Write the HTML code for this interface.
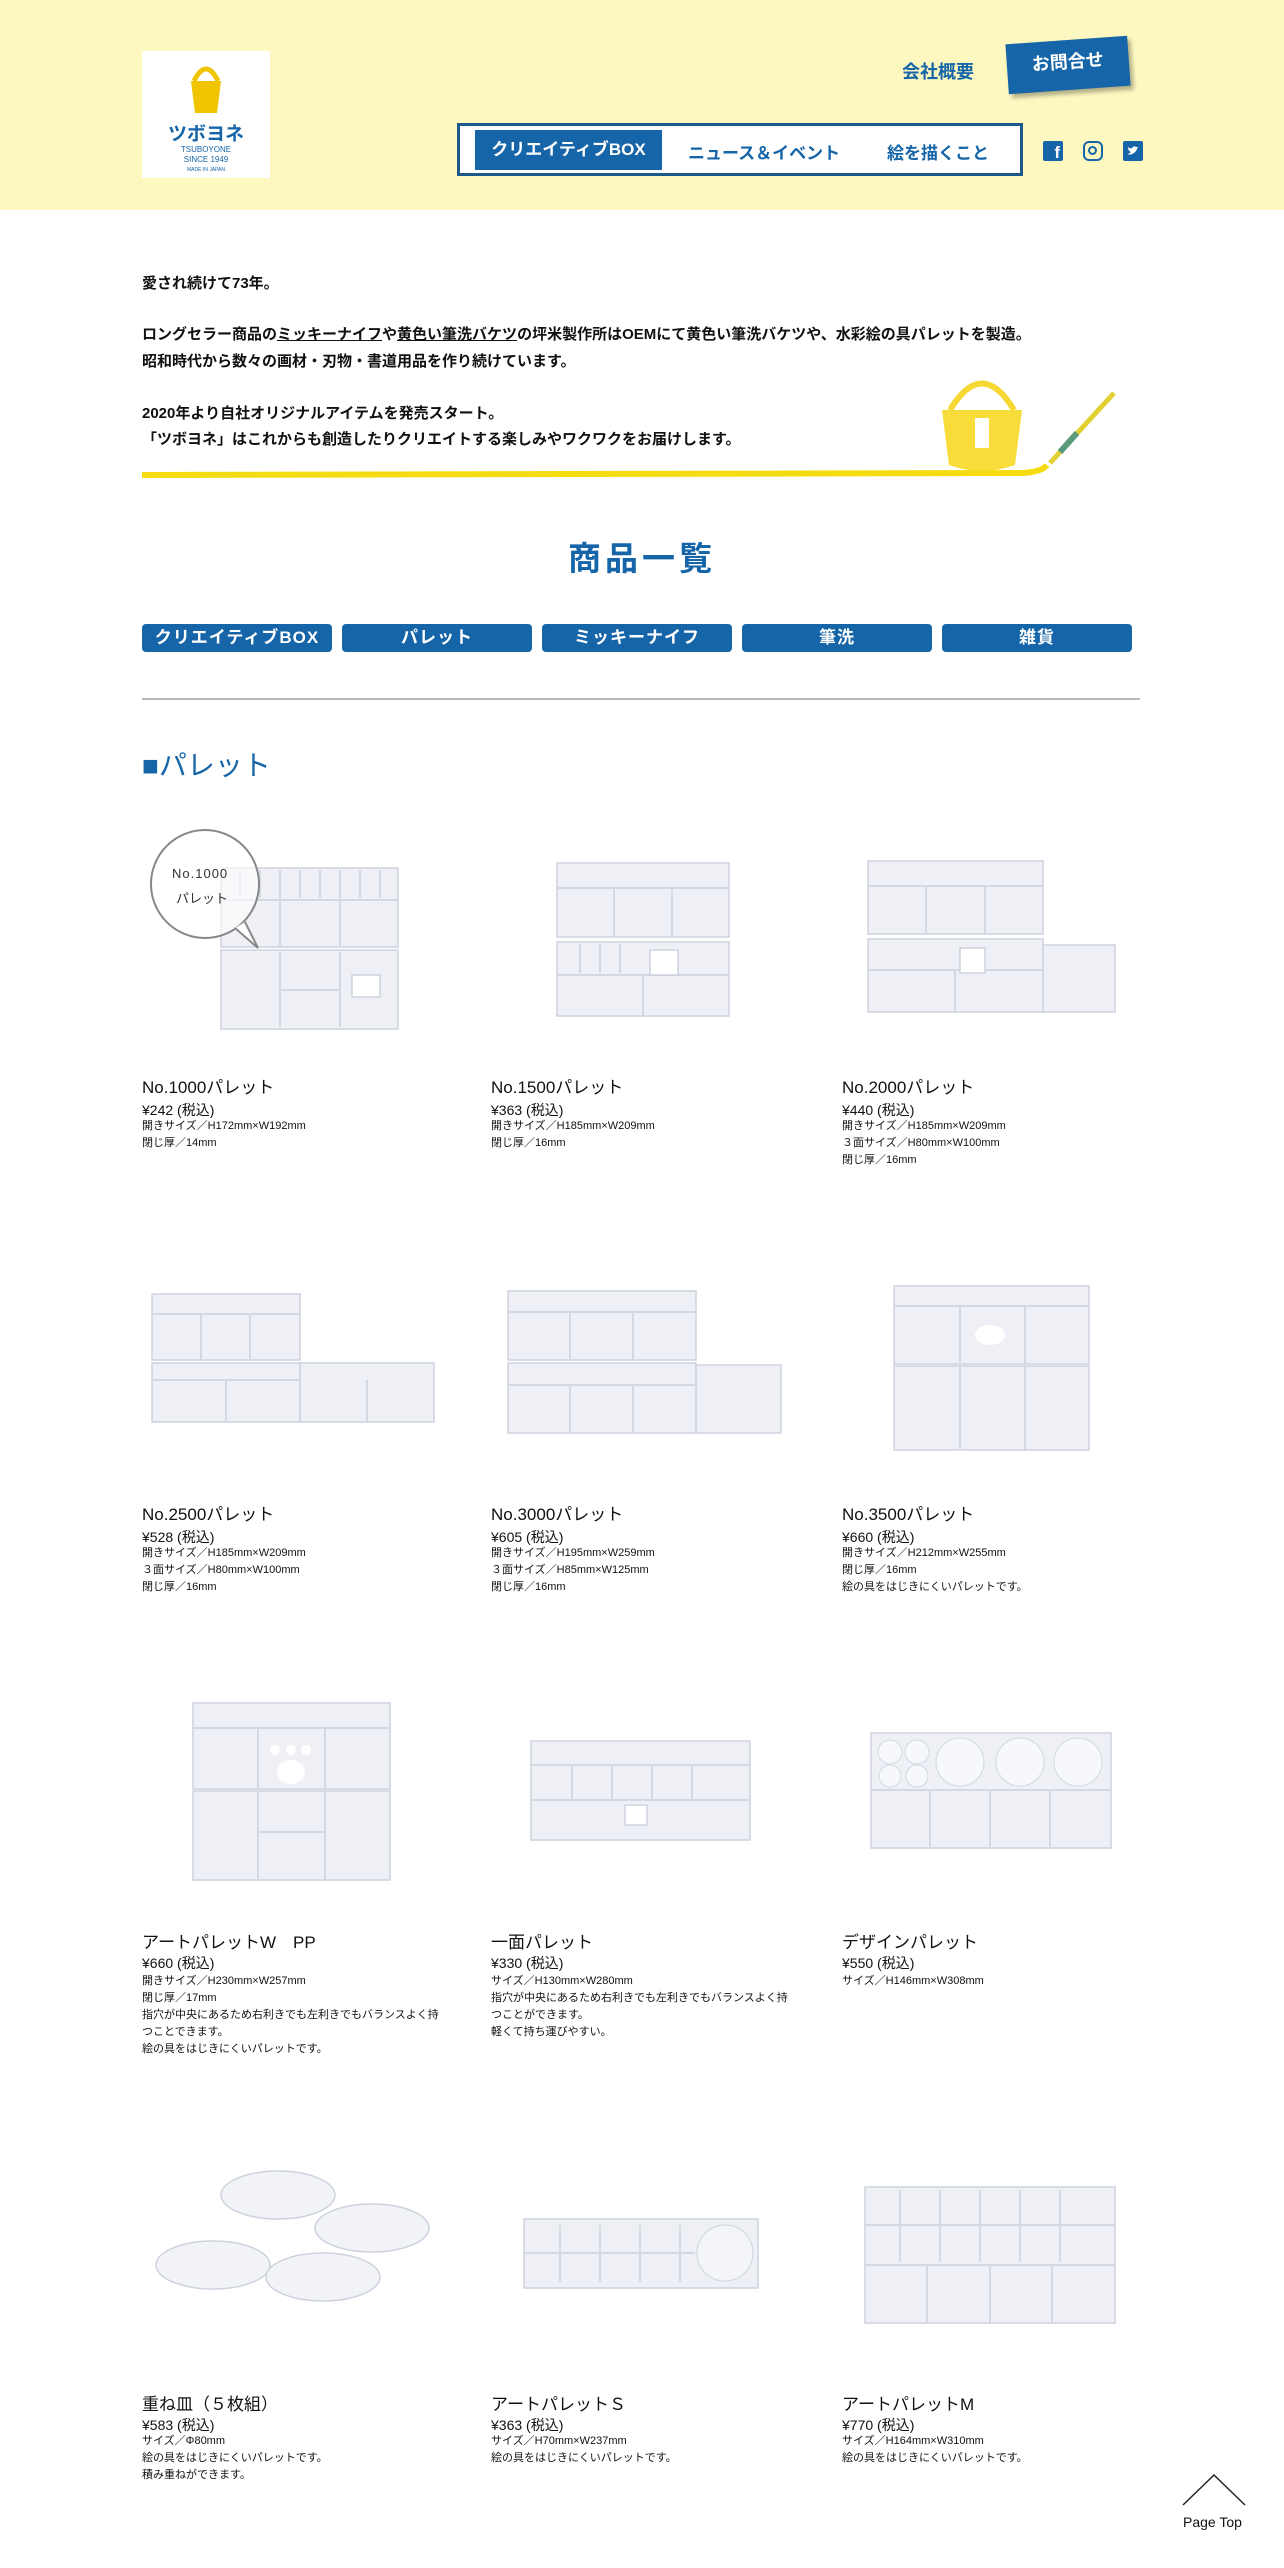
<!DOCTYPE html>
<html><head><meta charset="utf-8"><style>
*{margin:0;padding:0;box-sizing:border-box}
body{width:1284px;height:2568px;position:relative;background:#fff;font-family:"Liberation Sans","Noto Sans CJK JP",sans-serif;color:#111;overflow:hidden}
.a{position:absolute;white-space:nowrap}
.hdr{position:absolute;left:0;top:0;width:1284px;height:210px;background:#fdf8c0}
.blue{color:#1565a8}
.btn{position:absolute;top:624px;width:190px;height:28px;background:#1565a8;color:#fff;border-radius:4px;font-weight:bold;font-size:17px;text-align:center;line-height:28px;letter-spacing:1px}
.t{font-size:17px}
.p{font-size:14px}
.s{font-size:11px;line-height:17px}
svg.pal rect{fill:#eef0f6;stroke:#cdd2de;stroke-width:1.5}
svg.pal line{stroke:#d3d8e3;stroke-width:2}
</style></head><body>
<div class="hdr"></div>
<div class="a" style="left:142px;top:51px;width:128px;height:127px;background:#fff">
 <svg width="128" height="127" style="position:absolute;left:0;top:0">
  <path d="M52 30 Q64 6 76 30" stroke="#f1c400" stroke-width="5" fill="none"/>
  <path d="M49 30 L79 30 L75 62 L53 62 Z" fill="#f1c400"/>
 </svg>
 <div class="a blue" style="left:0;width:128px;text-align:center;top:68px;font-size:19px;font-weight:bold">ツボヨネ</div>
 <div class="a blue" style="left:0;width:128px;text-align:center;top:94px;font-size:8px;line-height:10px">TSUBOYONE<br>SINCE 1949</div>
 <div class="a blue" style="left:0;width:128px;text-align:center;top:116px;font-size:5px">MADE IN JAPAN</div>
</div>
<div class="a blue" style="left:902px;top:58px;font-size:18px;font-weight:bold">会社概要</div>
<div class="a" style="left:1007px;top:40px;width:122px;height:50px;background:#1565a8;transform:rotate(-4deg);box-shadow:3px 4px 4px rgba(0,0,0,.3);color:#fff;font-weight:bold;font-size:18px;text-align:center;line-height:44px">お問合せ</div>
<div class="a" style="left:457px;top:123px;width:566px;height:53px;border:3px solid #1b5a8a;background:#fff"></div>
<div class="a" style="left:475px;top:130px;width:187px;height:40px;background:#1565a8;color:#fff;font-weight:bold;font-size:17px;text-align:center;line-height:40px">クリエイティブBOX</div>
<div class="a blue" style="left:688px;top:139px;font-size:17px;font-weight:bold">ニュース＆イベント</div>
<div class="a blue" style="left:887px;top:139px;font-size:17px;font-weight:bold">絵を描くこと</div>
<div class="a" style="left:1043px;top:141px;width:20px;height:20px;background:#1565a8;border-radius:2px;color:#fff;font-weight:bold;font-size:17px;text-align:right;padding-right:3px;line-height:24px">f</div>
<div class="a" style="left:1083px;top:141px;width:20px;height:20px;border:2.5px solid #1565a8;border-radius:6px"><div style="position:absolute;left:3px;top:3px;width:9px;height:9px;border:2.5px solid #1565a8;border-radius:50%"></div></div>
<svg class="a" style="left:1123px;top:141px" width="20" height="20"><rect width="20" height="20" rx="2" fill="#1565a8"/><path d="M4 13 Q9 15 13 10 L15 6 L13 6 Q11 4 9 7 Q7 8 5 6 Q5 10 8 11 Q6 13 4 13Z" fill="#fff"/></svg>

<div class="a" style="left:142px;top:272px;font-size:15px;font-weight:bold">愛され続けて73年。</div>
<div class="a" style="left:142px;top:323px;font-size:15px;font-weight:bold">ロングセラー商品の<u>ミッキーナイフ</u>や<u>黄色い筆洗バケツ</u>の坪米製作所はOEMにて黄色い筆洗バケツや、水彩絵の具パレットを製造。</div>
<div class="a" style="left:142px;top:350px;font-size:15px;font-weight:bold">昭和時代から数々の画材・刃物・書道用品を作り続けています。</div>
<div class="a" style="left:142px;top:402px;font-size:15px;font-weight:bold">2020年より自社オリジナルアイテムを発売スタート。</div>
<div class="a" style="left:142px;top:428px;font-size:15px;font-weight:bold">「ツボヨネ」はこれからも創造したりクリエイトする楽しみやワクワクをお届けします。</div>
<svg class="a" style="left:142px;top:355px" width="980" height="130">
 <path d="M0 120 L880 118 Q900 117 905 110" stroke="#f5dc10" stroke-width="6" fill="none"/>
 <path d="M808 55 Q840 2 872 55" stroke="#f5d832" stroke-width="6" fill="none"/>
 <path d="M800 55 L880 55 L873 110 Q840 122 807 110 Z" fill="#f7dc3a"/>
 <rect x="833" y="63" width="14" height="30" fill="#fff"/>
 <line x1="972" y1="38" x2="908" y2="108" stroke="#e0d030" stroke-width="5"/>
 <line x1="935" y1="78" x2="918" y2="97" stroke="#5a9a7a" stroke-width="6"/>
</svg>

<div class="a blue" style="left:0;width:1284px;text-align:center;top:532px;font-size:33px;font-weight:bold;letter-spacing:4px">商品一覧</div>
<div class="btn" style="left:142px">クリエイティブBOX</div>
<div class="btn" style="left:342px">パレット</div>
<div class="btn" style="left:542px">ミッキーナイフ</div>
<div class="btn" style="left:742px">筆洗</div>
<div class="btn" style="left:942px">雑貨</div>
<div class="a" style="left:142px;top:698px;width:998px;height:2px;background:#999;opacity:.7"></div>
<div class="a blue" style="left:142px;top:744px;font-size:28px">■パレット</div>

<svg class="pal a" style="left:0;top:0" width="1284" height="2568">
 <!-- row1 col1 -->
 <rect x="221" y="868" width="177" height="79"/><rect x="221" y="950" width="177" height="79"/>
 <g>
  <line x1="221" y1="900" x2="398" y2="900"/>
  <line x1="240" y1="870" x2="240" y2="898"/><line x1="260" y1="870" x2="260" y2="898"/><line x1="280" y1="870" x2="280" y2="898"/><line x1="300" y1="870" x2="300" y2="898"/><line x1="320" y1="870" x2="320" y2="898"/><line x1="340" y1="870" x2="340" y2="898"/><line x1="360" y1="870" x2="360" y2="898"/><line x1="380" y1="870" x2="380" y2="898"/>
  <line x1="280" y1="900" x2="280" y2="947"/><line x1="340" y1="900" x2="340" y2="947"/>
  <line x1="280" y1="952" x2="280" y2="1027"/><line x1="340" y1="952" x2="340" y2="1027"/><line x1="280" y1="990" x2="340" y2="990"/>
 </g>
 <rect x="352" y="975" width="28" height="22" style="fill:#fff"/>
 <!-- col2 -->
 <rect x="557" y="863" width="172" height="74"/><rect x="557" y="942" width="172" height="74"/>
 <line x1="557" y1="888" x2="729" y2="888"/><line x1="614" y1="888" x2="614" y2="937"/><line x1="672" y1="888" x2="672" y2="937"/>
 <line x1="557" y1="975" x2="729" y2="975"/><line x1="643" y1="975" x2="643" y2="1016"/>
 <line x1="580" y1="944" x2="580" y2="973"/><line x1="600" y1="944" x2="600" y2="973"/><line x1="620" y1="944" x2="620" y2="973"/>
 <rect x="650" y="950" width="28" height="25" style="fill:#fff"/>
 <!-- col3 -->
 <rect x="868" y="861" width="175" height="73"/><rect x="868" y="939" width="175" height="73"/><rect x="1043" y="945" width="72" height="67"/>
 <line x1="868" y1="886" x2="1043" y2="886"/><line x1="926" y1="886" x2="926" y2="934"/><line x1="985" y1="886" x2="985" y2="934"/>
 <line x1="868" y1="970" x2="1043" y2="970"/><line x1="955" y1="970" x2="955" y2="1012"/>
 <rect x="960" y="948" width="25" height="25" style="fill:#fff"/>
 <!-- row2 -->
 <rect x="152" y="1294" width="148" height="66"/><rect x="152" y="1363" width="148" height="59"/><rect x="300" y="1363" width="134" height="59"/>
 <line x1="152" y1="1314" x2="300" y2="1314"/><line x1="201" y1="1314" x2="201" y2="1360"/><line x1="250" y1="1314" x2="250" y2="1360"/>
 <line x1="152" y1="1380" x2="300" y2="1380"/><line x1="226" y1="1380" x2="226" y2="1422"/><line x1="367" y1="1380" x2="367" y2="1422"/>
 <rect x="508" y="1291" width="188" height="69"/><rect x="508" y="1363" width="188" height="70"/><rect x="696" y="1365" width="85" height="68"/>
 <line x1="508" y1="1312" x2="696" y2="1312"/><line x1="570" y1="1312" x2="570" y2="1360"/><line x1="633" y1="1312" x2="633" y2="1360"/>
 <line x1="508" y1="1385" x2="696" y2="1385"/><line x1="570" y1="1385" x2="570" y2="1433"/><line x1="633" y1="1385" x2="633" y2="1433"/>
 <rect x="894" y="1286" width="195" height="78"/><rect x="894" y="1366" width="195" height="84"/>
 <line x1="894" y1="1306" x2="1089" y2="1306"/><line x1="960" y1="1306" x2="960" y2="1364"/><line x1="1025" y1="1306" x2="1025" y2="1364"/>
 <line x1="960" y1="1366" x2="960" y2="1450"/><line x1="1025" y1="1366" x2="1025" y2="1450"/>
 <ellipse cx="990" cy="1335" rx="15" ry="10" style="fill:#fff"/>
 <!-- row3 -->
 <rect x="193" y="1703" width="197" height="86"/><rect x="193" y="1791" width="197" height="89"/>
 <line x1="193" y1="1728" x2="390" y2="1728"/><line x1="258" y1="1728" x2="258" y2="1789"/><line x1="325" y1="1728" x2="325" y2="1789"/>
 <line x1="258" y1="1791" x2="258" y2="1880"/><line x1="325" y1="1791" x2="325" y2="1880"/><line x1="258" y1="1832" x2="325" y2="1832"/>
 <ellipse cx="291" cy="1772" rx="14" ry="12" style="fill:#fff"/><circle cx="275" cy="1750" r="5" style="fill:#fff"/><circle cx="291" cy="1750" r="5" style="fill:#fff"/><circle cx="306" cy="1750" r="5" style="fill:#fff"/>
 <rect x="531" y="1741" width="219" height="99"/>
 <line x1="531" y1="1765" x2="750" y2="1765"/><line x1="531" y1="1800" x2="750" y2="1800"/>
 <line x1="572" y1="1765" x2="572" y2="1800"/><line x1="612" y1="1765" x2="612" y2="1800"/><line x1="652" y1="1765" x2="652" y2="1800"/><line x1="692" y1="1765" x2="692" y2="1800"/>
 <rect x="625" y="1805" width="22" height="20" style="fill:#fff"/>
 <rect x="871" y="1733" width="240" height="115"/>
 <line x1="871" y1="1790" x2="1111" y2="1790"/><line x1="930" y1="1790" x2="930" y2="1848"/><line x1="990" y1="1790" x2="990" y2="1848"/><line x1="1050" y1="1790" x2="1050" y2="1848"/>
 <circle cx="890" cy="1752" r="12" style="fill:#f7f8fb;stroke:#d3d8e3"/><circle cx="917" cy="1752" r="12" style="fill:#f7f8fb;stroke:#d3d8e3"/><circle cx="890" cy="1776" r="11" style="fill:#f7f8fb;stroke:#d3d8e3"/><circle cx="917" cy="1776" r="11" style="fill:#f7f8fb;stroke:#d3d8e3"/>
 <circle cx="960" cy="1762" r="24" style="fill:#f7f8fb;stroke:#d3d8e3"/><circle cx="1020" cy="1762" r="24" style="fill:#f7f8fb;stroke:#d3d8e3"/><circle cx="1078" cy="1762" r="24" style="fill:#f7f8fb;stroke:#d3d8e3"/>
 <!-- row4 -->
 <ellipse cx="278" cy="2195" rx="57" ry="24" style="fill:#f2f3f7;stroke:#cdd2de;stroke-width:1.5"/>
 <ellipse cx="372" cy="2228" rx="57" ry="24" style="fill:#f2f3f7;stroke:#cdd2de;stroke-width:1.5"/>
 <ellipse cx="213" cy="2265" rx="57" ry="24" style="fill:#f2f3f7;stroke:#cdd2de;stroke-width:1.5"/>
 <ellipse cx="323" cy="2277" rx="57" ry="24" style="fill:#f2f3f7;stroke:#cdd2de;stroke-width:1.5"/>
 <rect x="524" y="2219" width="234" height="69"/>
 <line x1="560" y1="2225" x2="560" y2="2282"/><line x1="600" y1="2225" x2="600" y2="2282"/><line x1="640" y1="2225" x2="640" y2="2282"/><line x1="680" y1="2225" x2="680" y2="2282"/><line x1="524" y1="2253" x2="695" y2="2253"/>
 <circle cx="725" cy="2253" r="28" style="fill:#f4f5f9;stroke:#cdd2de"/>
 <rect x="865" y="2187" width="250" height="136"/>
 <line x1="865" y1="2265" x2="1115" y2="2265"/><line x1="927" y1="2265" x2="927" y2="2323"/><line x1="990" y1="2265" x2="990" y2="2323"/><line x1="1052" y1="2265" x2="1052" y2="2323"/>
 <line x1="865" y1="2225" x2="1115" y2="2225"/>
 <line x1="900" y1="2190" x2="900" y2="2262"/><line x1="940" y1="2190" x2="940" y2="2262"/><line x1="980" y1="2190" x2="980" y2="2262"/><line x1="1020" y1="2190" x2="1020" y2="2262"/><line x1="1060" y1="2190" x2="1060" y2="2262"/>
 <!-- bubble -->
 <circle cx="205" cy="884" r="54" style="fill:rgba(255,255,255,.6);stroke:#888;stroke-width:2"/>
 <path d="M235 928 L258 948 L245 922" style="fill:#fff;stroke:#888;stroke-width:2"/>
 <!-- Page top -->
 <path d="M1183 2505 L1214 2475 L1245 2505" style="fill:none;stroke:#222;stroke-width:1.5"/>
</svg>
<div class="a" style="left:172px;top:866px;font-size:13px;letter-spacing:1px;color:#333">No.1000</div>
<div class="a" style="left:176px;top:888px;font-size:13px;color:#333">パレット</div>
<div class="a" style="left:1183px;top:2514px;font-size:14px">Page Top</div>

<div class="a t" style="left:142px;top:1073px">No.1000パレット</div>
<div class="a p" style="left:142px;top:1100px">¥242 (税込)</div>
<div class="a s" style="left:142px;top:1118px">開きサイズ／H172mm×W192mm<br>閉じ厚／14mm</div>
<div class="a t" style="left:491px;top:1073px">No.1500パレット</div>
<div class="a p" style="left:491px;top:1100px">¥363 (税込)</div>
<div class="a s" style="left:491px;top:1118px">開きサイズ／H185mm×W209mm<br>閉じ厚／16mm</div>
<div class="a t" style="left:842px;top:1073px">No.2000パレット</div>
<div class="a p" style="left:842px;top:1100px">¥440 (税込)</div>
<div class="a s" style="left:842px;top:1118px">開きサイズ／H185mm×W209mm<br>３面サイズ／H80mm×W100mm<br>閉じ厚／16mm</div>
<div class="a t" style="left:142px;top:1500px">No.2500パレット</div>
<div class="a p" style="left:142px;top:1527px">¥528 (税込)</div>
<div class="a s" style="left:142px;top:1545px">開きサイズ／H185mm×W209mm<br>３面サイズ／H80mm×W100mm<br>閉じ厚／16mm</div>
<div class="a t" style="left:491px;top:1500px">No.3000パレット</div>
<div class="a p" style="left:491px;top:1527px">¥605 (税込)</div>
<div class="a s" style="left:491px;top:1545px">開きサイズ／H195mm×W259mm<br>３面サイズ／H85mm×W125mm<br>閉じ厚／16mm</div>
<div class="a t" style="left:842px;top:1500px">No.3500パレット</div>
<div class="a p" style="left:842px;top:1527px">¥660 (税込)</div>
<div class="a s" style="left:842px;top:1545px">開きサイズ／H212mm×W255mm<br>閉じ厚／16mm<br>絵の具をはじきにくいパレットです。</div>
<div class="a t" style="left:142px;top:1928px">アートパレットW　PP</div>
<div class="a p" style="left:142px;top:1953px">¥660 (税込)</div>
<div class="a s" style="left:142px;top:1973px">開きサイズ／H230mm×W257mm<br>閉じ厚／17mm<br>指穴が中央にあるため右利きでも左利きでもバランスよく持<br>つことできます。<br>絵の具をはじきにくいパレットです。</div>
<div class="a t" style="left:491px;top:1928px">一面パレット</div>
<div class="a p" style="left:491px;top:1953px">¥330 (税込)</div>
<div class="a s" style="left:491px;top:1973px">サイズ／H130mm×W280mm<br>指穴が中央にあるため右利きでも左利きでもバランスよく持<br>つことができます。<br>軽くて持ち運びやすい。</div>
<div class="a t" style="left:842px;top:1928px">デザインパレット</div>
<div class="a p" style="left:842px;top:1953px">¥550 (税込)</div>
<div class="a s" style="left:842px;top:1973px">サイズ／H146mm×W308mm</div>
<div class="a t" style="left:142px;top:2390px">重ね皿（５枚組）</div>
<div class="a p" style="left:142px;top:2415px">¥583 (税込)</div>
<div class="a s" style="left:142px;top:2433px">サイズ／Φ80mm<br>絵の具をはじきにくいパレットです。<br>積み重ねができます。</div>
<div class="a t" style="left:491px;top:2390px">アートパレットＳ</div>
<div class="a p" style="left:491px;top:2415px">¥363 (税込)</div>
<div class="a s" style="left:491px;top:2433px">サイズ／H70mm×W237mm<br>絵の具をはじきにくいパレットです。</div>
<div class="a t" style="left:842px;top:2390px">アートパレットM</div>
<div class="a p" style="left:842px;top:2415px">¥770 (税込)</div>
<div class="a s" style="left:842px;top:2433px">サイズ／H164mm×W310mm<br>絵の具をはじきにくいパレットです。</div>
</body></html>
